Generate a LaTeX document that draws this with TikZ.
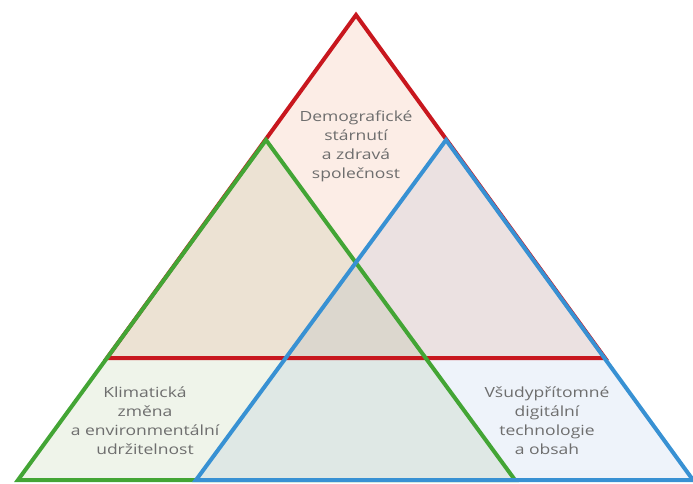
\documentclass[tikz,border=0pt]{standalone}
\usepackage{fontspec}
\setmainfont{Open Sans}[FakeStretch=1.25]
\usepackage{xcolor}
\usepackage{tikz}
\usetikzlibrary{positioning}

\definecolor{demored}{HTML}{C8171E}
\definecolor{climgreen}{HTML}{43A535}
\definecolor{digiblue}{HTML}{3891D3}
\definecolor{demofill}{HTML}{FCEDE6}
\definecolor{climfill}{HTML}{EFF4EA}
\definecolor{digifill}{HTML}{EEF3FA}
\definecolor{textgray}{HTML}{6E6E6E}

\begin{document}
\begin{tikzpicture}[x=1pt,y=-1pt,
    edge/.style={line width=4pt},
    tintfill/.style={blend mode=multiply},
    areatext/.style={align=center, text=textgray, inner sep=0pt,
        font=\fontsize{14}{19}\selectfont}]
    \useasboundingbox (0,0) rectangle (693,484);

    % corners of the three triangles
    \coordinate (rtop) at (356,15);
    \coordinate (rleft) at (107,358);
    \coordinate (rright) at (605,358);
    \coordinate (gtop) at (266,140);
    \coordinate (gleft) at (18,480);
    \coordinate (gright) at (515,480);
    \coordinate (btop) at (446,140);
    \coordinate (bleft) at (196,480);
    \coordinate (bright) at (693,480);

    \fill [demofill, tintfill] (rtop) -- (rleft) -- (rright) -- cycle;
    \fill [climfill, tintfill] (gtop) -- (gleft) -- (gright) -- cycle;
    \fill [digifill, tintfill] (btop) -- (bleft) -- (bright) -- cycle;

    \draw [edge, demored] (rtop) -- (rleft) -- (rright) -- cycle;
    \draw [edge, climgreen] (gtop) -- (gleft) -- (gright) -- cycle;
    \draw [edge, digiblue] (btop) -- (bleft) -- (bright) -- cycle;

    \node [areatext] (demo) at (356,146) {Demografické\\stárnutí\\a zdravá\\společnost};
    \node [areatext] (clim) at (145,421) {Klimatická\\změna\\a environmentální\\udržitelnost};
    \node [areatext] (digi) at (547,421) {Všudypřítomné\\digitální\\technologie\\a obsah};
\end{tikzpicture}
\end{document}
